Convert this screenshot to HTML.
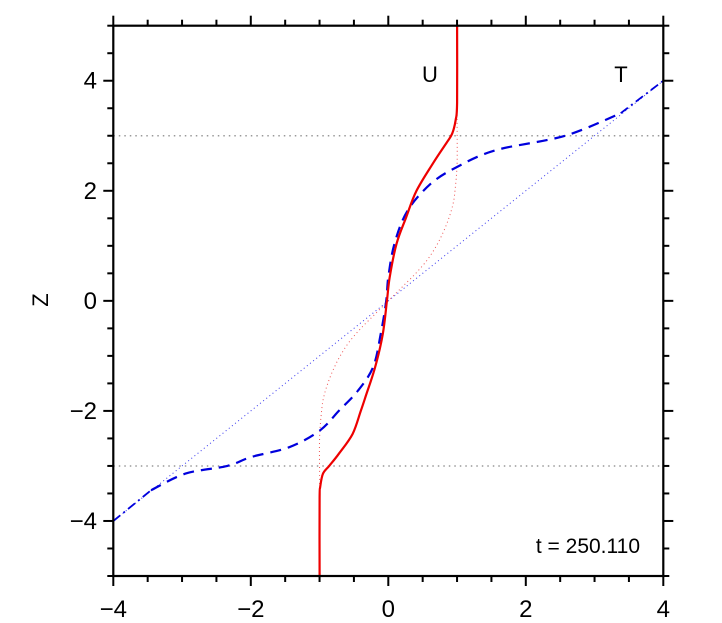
<!DOCTYPE html>
<html><head><meta charset="utf-8"><style>
html,body{margin:0;padding:0;background:#fff;}
svg{display:block;font-family:"Liberation Sans",Arial,sans-serif;}
</style></head><body>
<svg id="chart" width="722" height="623" viewBox="0 0 722 623" xmlns="http://www.w3.org/2000/svg">
<g id="plot"></g>
</svg>
<script>
const uZ = [-5,-3.6,-3.38,-3.14,-3.0,-2.78,-2.42,-2.0,-1.7,-1.2,-0.6,0,0.43,1.04,1.52,2.0,2.5,2.86,3.04,3.29,3.6,5];
const uX = [-1.0,-1.0,-0.99,-0.95,-0.86,-0.72,-0.52,-0.4,-0.32,-0.19,-0.08,-0.02,0.02,0.12,0.26,0.41,0.65,0.84,0.93,0.98,1.0,1.0];
const tZ = [-3.44,-3.14,-3.0,-2.84,-2.66,-2.36,-2.0,-1.63,-1.2,-0.6,0,0.43,1.04,1.64,2.13,2.44,2.74,3.0,3.41];
const tX = [-3.45,-2.95,-2.34,-2.0,-1.44,-1.0,-0.72,-0.44,-0.22,-0.11,-0.03,0.0,0.09,0.28,0.62,1.01,1.57,2.57,3.38];
const tOuterLoZ = [-4,-3.44];
const tOuterLoX = [-4,-3.45];
const tOuterHiZ = [3.41,4];
const tOuterHiX = [3.38,4];
const u0Z = [-5,-3.3,-2.5,-2,-1.75,-1.5,-1.25,-1,-0.75,-0.5,-0.25,0,0.25,0.5,0.75,1,1.25,1.5,1.75,2,2.5,3.3,5];
const u0X = [-1,-1,-1,-0.97,-0.94,-0.88,-0.8,-0.7,-0.57,-0.4,-0.2,0,0.2,0.4,0.57,0.7,0.8,0.88,0.94,0.97,1,1,1];
const t0Z = [-4,4];
const t0X = [-4,4];
const refZ = [-3,3];
const xTicks = [-4,-2,0,2,4];
const yTicks = [-4,-2,0,2,4];

const L=113.3,R=663.3,T=25.7,B=576;
const xs=v=>L+(v+4)/8*(R-L);
const ys=v=>B-(v+5)/10*(B-T);
const NS="http://www.w3.org/2000/svg";
const g=document.getElementById('plot');
function mk(tag,attrs){const e=document.createElementNS(NS,tag);for(const k in attrs)e.setAttribute(k,attrs[k]);g.appendChild(e);return e;}
function pathOf(X,Z){
  const P=X.map((x,i)=>[xs(x),ys(Z[i])]);
  if(P.length<3) return 'M'+P.map(p=>p[0].toFixed(1)+','+p[1].toFixed(1)).join(' L');
  let d='M'+P[0][0].toFixed(1)+','+P[0][1].toFixed(1);
  for(let i=0;i<P.length-1;i++){
    const p0=P[Math.max(0,i-1)],p1=P[i],p2=P[i+1],p3=P[Math.min(P.length-1,i+2)];
    const c1=[p1[0]+(p2[0]-p0[0])/6,p1[1]+(p2[1]-p0[1])/6];
    const c2=[p2[0]-(p3[0]-p1[0])/6,p2[1]-(p3[1]-p1[1])/6];
    d+=' C'+c1[0].toFixed(1)+','+c1[1].toFixed(1)+' '+c2[0].toFixed(1)+','+c2[1].toFixed(1)+' '+p2[0].toFixed(1)+','+p2[1].toFixed(1);
  }
  return d;
}

refZ.forEach(z=>{
  const e=mk('line',{x1:L,x2:R,y1:ys(z),y2:ys(z),stroke:'#999','stroke-width':1.5,'stroke-dasharray':'1.5,4'});
  
  
});
let e;
e=mk('path',{d:pathOf(t0X,t0Z),fill:'none',stroke:'#3333ee','stroke-width':1,'stroke-dasharray':'1,3'});


e=mk('path',{d:pathOf(u0X,u0Z),fill:'none',stroke:'#ee5555','stroke-width':1,'stroke-dasharray':'1,3'});


e=mk('path',{d:pathOf(tX,tZ),fill:'none',stroke:'#0000dd','stroke-width':2.2,'stroke-dasharray':'11,7'});


e=mk('path',{d:pathOf(tOuterLoX,tOuterLoZ),fill:'none',stroke:'#0000dd','stroke-width':1.8,'stroke-dasharray':'9,4,2,4'});


e=mk('path',{d:pathOf(tOuterHiX,tOuterHiZ),fill:'none',stroke:'#0000dd','stroke-width':1.8,'stroke-dasharray':'9,4,2,4'});


e=mk('path',{d:pathOf(uX,uZ),fill:'none',stroke:'#ee0000','stroke-width':2.2,'stroke-linejoin':'round'});



e=mk('rect',{x:L,y:T,width:R-L,height:B-T,fill:'none',stroke:'#000','stroke-width':2.2});


for(let v=-4;v<=4.001;v+=0.5){
  const major=Math.abs(v%2)<1e-6, len=major?10:6, x=xs(v);
  e=mk('line',{x1:x,x2:x,y1:B,y2:B+len,stroke:'#000','stroke-width':2});
  
  
  e=mk('line',{x1:x,x2:x,y1:T,y2:T-len,stroke:'#000','stroke-width':2});
  
  
}
for(let v=-5;v<=5.001;v+=0.5){
  const major=Math.abs(v%2)<1e-6, len=major?10:6, y=ys(v);
  e=mk('line',{x1:L,x2:L-len,y1:y,y2:y,stroke:'#000','stroke-width':2});
  
  
  e=mk('line',{x1:R,x2:R+len,y1:y,y2:y,stroke:'#000','stroke-width':2});
  
  
}
function lab(v){return v<0?'\u2212'+(-v):''+v;}
xTicks.forEach(v=>{
  const t=mk('text',{x:xs(v),y:617,'text-anchor':'middle','font-size':24});
  t.textContent=lab(v);
  
  
});
yTicks.forEach(v=>{
  const t=mk('text',{x:97,y:ys(v)+8,'text-anchor':'end','font-size':24});
  t.textContent=lab(v);
  
  
});
let t=mk('text',{x:0,y:0,'text-anchor':'middle','font-size':22,transform:'translate(48,300) rotate(-90)'});
t.textContent='Z';


t=mk('text',{x:430,y:82,'text-anchor':'middle','font-size':22});
t.textContent='U';


t=mk('text',{x:621,y:82,'text-anchor':'middle','font-size':22});
t.textContent='T';


t=mk('text',{x:640,y:553,'text-anchor':'end','font-size':21});
t.textContent='t  =  250.110';


</script>
</body></html>
